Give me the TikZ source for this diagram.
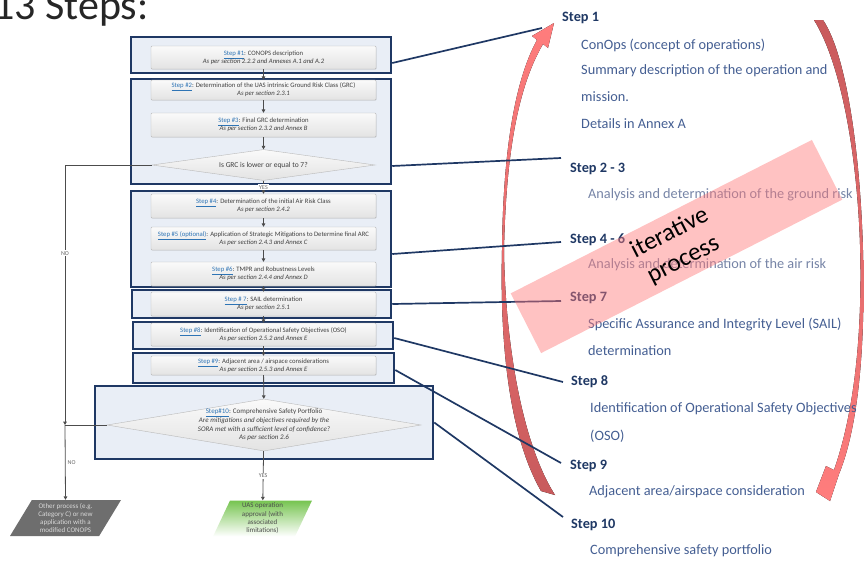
\documentclass[tikz,border=0pt]{standalone}
\usepackage{fontspec}
\setmainfont{Carlito}
\usetikzlibrary{arrows.meta,shapes.geometric,shadows}
\definecolor{navy}{RGB}{31,56,100}
\definecolor{grpfill}{RGB}{233,238,246}
\definecolor{linkblue}{RGB}{46,116,181}
\definecolor{desc}{RGB}{68,94,146}
\definecolor{desclight}{RGB}{118,132,166}
\definecolor{arcdark}{RGB}{200,90,92}
\definecolor{arclight}{RGB}{255,125,125}
\definecolor{pinkband}{RGB}{255,120,120}
\definecolor{okgreen}{RGB}{118,196,80}
\newcommand{\stp}[1]{\textcolor{linkblue}{\underline{#1}}}
\begin{document}
\begin{tikzpicture}[x=1pt,y=-1pt,
  grp/.style={draw=navy,line width=2.5pt,fill=grpfill,inner sep=0pt},
  box/.style={draw=gray!55,rounded corners=1pt,top color=gray!4,bottom color=gray!22,
    minimum width=225pt,inner sep=0pt,align=center,font=\fontsize{6.7}{8}\selectfont,text=black!75,
    drop shadow={opacity=0.25,shadow xshift=0.6pt,shadow yshift=-0.6pt}},
  dec/.style={diamond,draw=gray!55,top color=gray!4,bottom color=gray!22,inner sep=0pt,align=center,
    font=\fontsize{7.5}{8}\selectfont,text=black!75},
  flow/.style={draw=gray!60!black,line width=0.8pt,-{Triangle[width=3.6pt,length=3.4pt]}},
  line/.style={draw=gray!60!black,line width=0.8pt},
  tag/.style={font=\fontsize{6}{7}\selectfont,text=black!60,inner sep=1pt},
  link/.style={draw=navy,line width=1.7pt},
  head/.style={anchor=west,font=\fontsize{14.3}{16}\selectfont\bfseries,text=navy,inner sep=0pt},
  txt/.style={anchor=west,font=\fontsize{14.3}{16}\selectfont,text=desc,inner sep=0pt},
  outbox/.style={trapezium,trapezium stretches body,minimum height=36pt,inner sep=0pt,
    align=center,font=\fontsize{7}{8.3}\selectfont}]
\useasboundingbox (0,0) rectangle (864,560);

\node[anchor=base west,inner sep=0pt,font=\fontsize{42}{42}\selectfont,text=black!85] (title) at (-7,19) {13 Steps:};

\node[grp,minimum width=260pt,minimum height=36pt] (g1) at (261,55) {};
\node[grp,minimum width=260pt,minimum height=105pt] (g2) at (261,131.5) {};
\node[grp,minimum width=260pt,minimum height=96pt] (g3) at (261,239) {};
\node[grp,minimum width=259pt,minimum height=28pt] (g4) at (261.5,304) {};
\node[grp,minimum width=260pt,minimum height=27pt] (g5) at (263,335.5) {};
\node[grp,minimum width=261pt,minimum height=30pt] (g6) at (263.5,368) {};
\node[grp,minimum width=338pt,minimum height=73pt] (g7) at (264,422.5) {};

\node[box,minimum height=23pt] (s1) at (263.5,57.5) {\stp{Step \#1}: CONOPS description\\\textit{As per section 2.2.2 and Annexes A.1 and A.2}};
\node[box,minimum height=20pt] (s2) at (263.5,90) {\stp{Step \#2}: Determination of the UAS intrinsic Ground Risk Class (GRC)\\\textit{As per section 2.3.1}};
\node[box,minimum height=24pt] (s3) at (263.5,125) {\stp{Step \#3}: Final GRC determination\\\textit{As per section 2.3.2 and Annex B}};
\node[dec,aspect=7,minimum width=223pt,minimum height=31pt] (d1) at (263.5,165) {Is GRC is lower or equal to 7?};
\node[box,minimum height=24pt] (s4) at (263.5,206) {\stp{Step \#4}: Determination of the initial Air Risk Class\\\textit{As per section 2.4.2}};
\node[box,minimum height=23pt] (s5) at (263.5,238.5) {\stp{Step \#5 (optional)}: Application of Strategic Mitigations to Determine final ARC\\\textit{As per section 2.4.3 and Annex C}};
\node[box,minimum height=24pt] (s6) at (263.5,274) {\stp{Step \#6}: TMPR and Robustness Levels\\\textit{As per section 2.4.4 and Annex D}};
\node[box,minimum height=24pt] (s7) at (263.5,304) {\stp{Step \# 7}: SAIL determination\\\textit{As per section 2.5.1}};
\node[box,minimum height=23pt] (s8) at (263.5,334.5) {\stp{Step \#8}: Identification of Operational Safety Objectives (OSO)\\\textit{As per section 2.5.2 and Annex E}};
\node[box,minimum height=19pt] (s9) at (263.5,365.5) {\stp{Step \#9}: Adjacent area / airspace considerations\\\textit{As per section 2.5.3 and Annex E}};
\node[dec,minimum width=314pt,minimum height=52pt] (d2) at (264,425) {};
\node[align=center,inner sep=0pt,font=\fontsize{7}{8.7}\selectfont,text=black!75] (d2t) at (264,425) {\stp{Step\#10}: Comprehensive Safety Portfolio\\\textit{Are mitigations and objectives required by the}\\\textit{SORA met with a sufficient level of confidence?}\\\textit{As per section 2.6}};

\node[outbox,trapezium left angle=54,trapezium right angle=126,minimum width=111pt,fill=black!57,text=white!85!black] (other) at (65.5,518) {Other process (e.g.\\Category C) or new\\application with a\\modified CONOPS};
\node[outbox,trapezium left angle=61,trapezium right angle=119,minimum width=99pt,top color=okgreen,bottom color=white,text=black!70] (ok) at (262.5,518.5) {UAS operation\\approval (with\\associated\\limitations)};

\draw[flow] (s1) -- (s2);
\draw[flow] (s2) -- (s3);
\draw[flow] (s3) -- (d1);
\draw[flow] (d1) to node[tag,fill=white]{YES} (s4);
\draw[flow] (s4) -- (s5);
\draw[flow] (s5) -- (s6);
\draw[flow] (s6) -- (s7);
\draw[flow] (s7) -- (s8);
\draw[flow] (s8) -- (s9);
\draw[flow] (s9) -- (d2);
\draw[flow] (d2) to node[tag,fill=white]{YES} (ok);
\coordinate (j) at (65,425);
\draw[flow] (d1.west) -| node[tag,fill=white,pos=0.67]{NO} (j);
\draw[line] (d2.west) -- (j);
\draw[flow] (j) -- node[tag,right,xshift=1pt]{NO} (other.north);

\fill[top color=arclight,bottom color=arcdark] (541,491) .. controls (506,430) and (500,330) .. (502,250) .. controls (503,150) and (515,80) .. (537,40) -- (532,36) -- (554,23) -- (548,48) -- (543,44) .. controls (519,85) and (506,150) .. (504,250) .. controls (505,335) and (520,440) .. (555,495) -- cycle;
\fill[top color=arcdark,bottom color=arclight] (814,20) .. controls (845,70) and (861,180) .. (860.5,280) .. controls (860,370) and (848,430) .. (834,470) -- (826,466) -- (816,492) -- (830,501) -- (839,474) .. controls (853,440) and (864,380) .. (863.5,280) .. controls (863,180) and (850,60) .. (823,20) -- cycle;

\node[head] (h1) at (562,18) {Step 1};
\node[txt] (t1a) at (581,45) {ConOps (concept of operations)};
\node[txt] (t1b) at (581,71) {Summary description of the operation and};
\node[txt] (t1c) at (581,97) {mission.};
\node[txt] (t1d) at (581,124) {Details in Annex A};
\node[head] (h2) at (570,169) {Step 2 - 3};
\node[txt,text=desclight] (t2) at (588,195) {Analysis and determination of the ground risk};
\node[head] (h3) at (570,240) {Step 4 - 6};
\node[txt,text=desclight] (t3) at (588,265) {Analysis and determination of the air risk};
\node[head] (h4) at (570,298) {Step 7};
\node[txt] (t4a) at (588,324) {Specific Assurance and Integrity Level (SAIL)};
\node[txt] (t4b) at (588,351) {determination};
\node[head] (h5) at (571,382) {Step 8};
\node[txt] (t5a) at (590,409) {Identification of Operational Safety Objectives};
\node[txt] (t5b) at (590,436) {(OSO)};
\node[head] (h6) at (570,466) {Step 9};
\node[txt] (t6) at (589,492) {Adjacent area/airspace consideration};
\node[head] (h7) at (571,525) {Step 10};
\node[txt] (t7) at (590,551) {Comprehensive safety portfolio};

\coordinate (e1) at (542,28);
\coordinate (e2) at (561,158);
\coordinate (e3) at (561,242);
\coordinate (e4) at (561,301);
\coordinate (e5) at (563,382);
\coordinate (e6) at (561,463);
\coordinate (e7) at (563,517);
\draw[link] ([yshift=-8pt]g1.east) -- (e1);
\draw[link] ([yshift=-34.5pt]g2.east) -- (e2);
\draw[link] ([yshift=-15pt]g3.east) -- (e3);
\draw[link] (g4.east) -- (e4);
\draw[link] ([yshift=-2.5pt]g5.east) -- (e5);
\draw[link] ([yshift=-2pt]g6.east) -- (e6);
\draw[link] (g7.east) -- (e7);

\node[fill=pinkband,fill opacity=0.45,minimum width=338pt,minimum height=67pt,rotate=27] (band) at (676.5,246.5) {};
\node[rotate=27,align=center,inner sep=0pt,font=\fontsize{25}{30}\selectfont] (iter) at (676.5,246.5) {iterative\\process};
\end{tikzpicture}
\end{document}
